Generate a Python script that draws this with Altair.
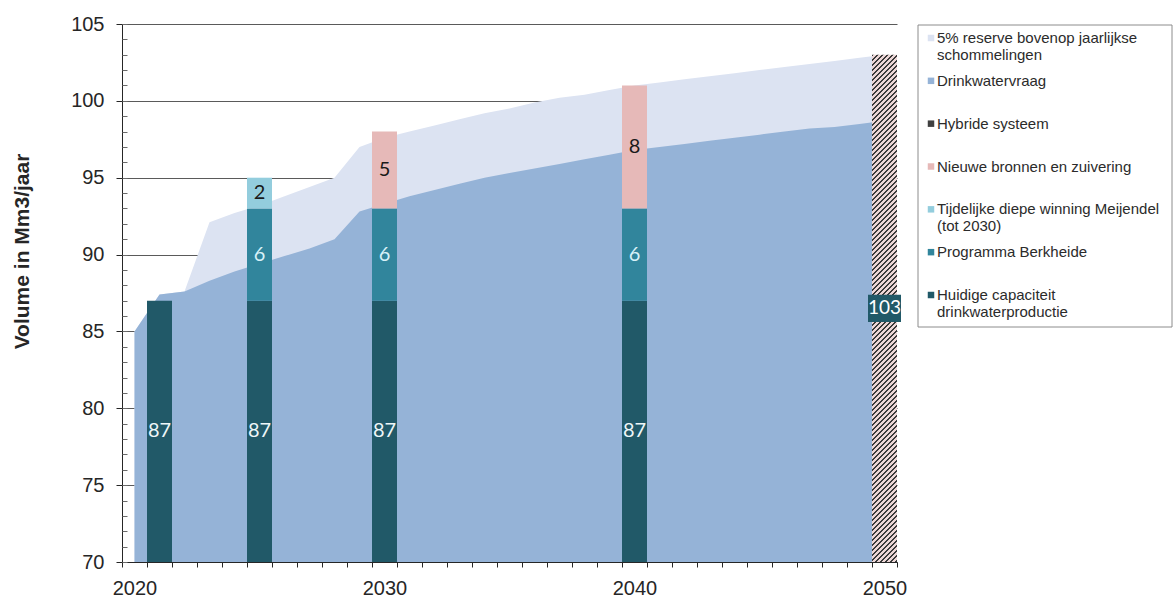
import math

import altair as alt
import pandas as pd

# ---------------------------------------------------------------- values
years = list(range(2020, 2051))

# drinking-water demand (Mm3/year)
demand = [85.0, 87.4, 87.6, 88.3, 88.9, 89.4, 89.9, 90.4, 91.0, 92.8,
          93.3, 93.8, 94.2, 94.6, 95.0, 95.3, 95.6, 95.9, 96.2, 96.5,
          96.8, 97.0, 97.2, 97.4, 97.6, 97.8, 98.0, 98.2, 98.3, 98.5, 98.7]

# demand plus 5% reserve on top of yearly fluctuations
reserve = [85.0, 87.4, 87.6, 92.1, 92.7, 93.2, 93.8, 94.4, 95.0, 97.0,
           97.6, 98.0, 98.4, 98.8, 99.2, 99.5, 99.9, 100.2, 100.4, 100.7,
           101.0, 101.2, 101.4, 101.6, 101.8, 102.0, 102.2, 102.4, 102.6, 102.8, 103.0]

# production capacity per milestone year
bar_years = [2021, 2025, 2030, 2040]
huidige = [87, 87, 87, 87]
berkheide = [0, 6, 6, 6]
meijendel = [0, 2, 0, 0]
nieuwe = [0, 0, 5, 8]

hybride_year = 2050
hybride = 103

# legend entries (top to bottom); "|" marks a line break
RESERVE = "5% reserve bovenop jaarlijkse|schommelingen"
VRAAG = "Drinkwatervraag"
HYBRIDE = "Hybride systeem"
NIEUWE = "Nieuwe bronnen en zuivering"
MEIJENDEL = "Tijdelijke diepe winning Meijendel|(tot 2030)"
BERKHEIDE = "Programma Berkheide"
HUIDIGE = "Huidige capaciteit|drinkwaterproductie"
entries = [RESERVE, VRAAG, HYBRIDE, NIEUWE, MEIJENDEL, BERKHEIDE, HUIDIGE]

x_ticks = [2020, 2030, 2040, 2050]
y_ticks = [70, 75, 80, 85, 90, 95, 100, 105]

# ---------------------------------------------------------------- styling
FONT = "Liberation Sans"
NUM_FONT = "Lato"
INK = "#262626"
palette = {
    RESERVE: "#dce3f2",
    VRAAG: "#95b3d7",
    HYBRIDE: "#404040",
    NIEUWE: "#e6b9b8",
    MEIJENDEL: "#93cddd",
    BERKHEIDE: "#31859c",
    HUIDIGE: "#215968",
}
label_ink = {
    HUIDIGE: "#eef6f8",
    BERKHEIDE: "#d8f1f8",
    MEIJENDEL: "#1a1a1a",
    NIEUWE: "#1a1a1a",
}

PLOT_W, PLOT_H = 775, 538
Y_MIN, Y_MAX = 70, 105
X_MIN, X_MAX = years[0] - 0.5, years[-1] + 0.5
HYBRIDE_LABEL_Y = 86.5

x_scale = alt.Scale(domain=[X_MIN, X_MAX], nice=False, zero=False)
y_scale = alt.Scale(domain=[Y_MIN, Y_MAX], nice=False, zero=False)
color_scale = alt.Scale(domain=entries, range=[palette[e] for e in entries])
ink_scale = alt.Scale(domain=list(label_ink), range=list(label_ink.values()))

# ---------------------------------------------------------------- tables
area_df = pd.DataFrame({"year": years, "demand": demand, "reserve": reserve})

seg_names = [HUIDIGE, BERKHEIDE, MEIJENDEL, NIEUWE]
seg_values = [huidige, berkheide, meijendel, nieuwe]
rows = []
for order, (name, vals) in enumerate(zip(seg_names, seg_values)):
    for yr, v in zip(bar_years, vals):
        if v:
            rows.append({"year": yr, "component": name, "value": v, "order": order})
bar_df = pd.DataFrame(rows)

hyb_df = pd.DataFrame({"year": [hybride_year], "value": [hybride]})
legend_df = pd.DataFrame({"entry": entries, "row": list(range(len(entries)))})

# ---------------------------------------------------------------- axes
x_label_axis = alt.Axis(
    orient="bottom", values=x_ticks, format="d", ticks=False, tickSize=0,
    labelPadding=16, labelFont=FONT, labelFontSize=20, labelColor=INK,
    labelFlush=False, labelOverlap=False, domainColor=INK, domainWidth=1,
    grid=False, title=None, zindex=2,
)
x_tick_axis = alt.Axis(
    orient="bottom", values=[y - 0.5 for y in years] + [years[-1] + 0.5],
    labels=False, domain=False, tickSize=5, tickColor=INK, grid=False,
    title=None, zindex=2,
)
y_grid_axis = alt.Axis(
    orient="left", values=y_ticks, grid=True, gridColor="#5a5a5a", gridWidth=1,
    domain=False, ticks=False, labels=False, title=None, zindex=0,
)
y_main_axis = alt.Axis(
    orient="left", values=y_ticks, tickSize=6, tickColor=INK, labelPadding=12,
    labelFont=FONT, labelFontSize=20, labelColor=INK, domainColor=INK,
    domainWidth=1, grid=False, title="Volume in Mm3/jaar", titleFont=FONT,
    titleFontSize=21, titleFontWeight="bold", titleColor=INK, titleAngle=270,
    titleX=-100, titleY=227, titleAlign="center", titleBaseline="middle",
    zindex=2,
)
y_minor_axis = alt.Axis(
    orient="left", values=list(range(Y_MIN, Y_MAX + 1)), offset=-5, tickSize=5,
    tickColor="#6a6a6a", labels=False, domain=False, grid=False, title=None,
    zindex=2,
)

# ---------------------------------------------------------------- hatch fill
bar_px_w = PLOT_W / (X_MAX - X_MIN)
bar_px_h = PLOT_H * (hybride - Y_MIN) / (Y_MAX - Y_MIN)
ratio = bar_px_w / bar_px_h
k = 1.05
span = bar_px_h * k * (1 + ratio ** 2)
period = 5.0
dark_share = 0.42
stops = []
n_stripes = int(math.ceil(span / period))
for i in range(n_stripes):
    a = min(1.0, i * period / span)
    b = min(1.0, (i + dark_share) * period / span)
    c = min(1.0, (i + 1) * period / span)
    stops += [
        {"offset": a, "color": "#3a3a3a"},
        {"offset": b, "color": "#3a3a3a"},
        {"offset": b, "color": "#ecd6d6"},
        {"offset": c, "color": "#ecd6d6"},
    ]
hatch = {"gradient": "linear", "x1": 0, "y1": 0, "x2": k * ratio, "y2": k, "stops": stops}

# ---------------------------------------------------------------- layers
reserve_area = alt.Chart(area_df).mark_area(clip=True, opacity=1, color=palette[RESERVE]).encode(
    x=alt.X("year:Q", scale=x_scale, axis=x_label_axis),
    y=alt.Y("reserve:Q", scale=y_scale, axis=y_grid_axis, stack=None),
)

demand_area = alt.Chart(area_df).mark_area(clip=True, opacity=1, color=palette[VRAAG]).encode(
    x=alt.X("year:Q", scale=x_scale, axis=x_tick_axis),
    y=alt.Y("demand:Q", scale=y_scale, axis=y_main_axis, stack=None),
)

stacked = alt.Chart(bar_df).transform_stack(
    stack="value", groupby=["year"], sort=[alt.SortField("order")], as_=["y0", "y1"]
).transform_calculate(
    x0="datum.year - 0.5", x1="datum.year + 0.5",
    mid=f"(max(datum.y0, {Y_MIN}) + datum.y1) / 2",
)

bars = stacked.mark_bar(clip=True, opacity=1).encode(
    x=alt.X("x0:Q", scale=x_scale, axis=None),
    x2="x1:Q",
    y=alt.Y("y0:Q", scale=y_scale, axis=y_minor_axis),
    y2="y1:Q",
    color=alt.Color("component:N", scale=color_scale, legend=None),
)

bar_values = stacked.mark_text(font=NUM_FONT, fontSize=20).encode(
    x=alt.X("year:Q", scale=x_scale, axis=None),
    y=alt.Y("mid:Q", scale=y_scale, axis=None),
    text=alt.Text("value:Q", format="d"),
    fill=alt.Fill("component:N", scale=ink_scale, legend=None),
)

hybrid_bar = alt.Chart(hyb_df).transform_calculate(
    x0="datum.year - 0.5", x1="datum.year + 0.5"
).mark_bar(clip=True, fill=hatch, strokeWidth=0).encode(
    x=alt.X("x0:Q", scale=x_scale, axis=None),
    x2="x1:Q",
    y=alt.Y("value:Q", scale=y_scale, axis=None),
    y2=alt.Y2Datum(Y_MIN),
)

hybrid_box = alt.Chart(hyb_df).mark_point(
    shape="M-1,-0.82L1,-0.82L1,0.82L-1,0.82Z", size=1089, filled=True,
    fill=palette[HUIDIGE], opacity=1, strokeWidth=0,
).encode(
    x=alt.X("year:Q", scale=x_scale, axis=None),
    y=alt.YDatum(HYBRIDE_LABEL_Y, scale=y_scale, axis=None),
)

hybrid_text = alt.Chart(hyb_df).mark_text(font=NUM_FONT, fontSize=19, color="#ffffff").encode(
    x=alt.X("year:Q", scale=x_scale, axis=None),
    y=alt.YDatum(HYBRIDE_LABEL_Y, scale=y_scale, axis=None),
    text=alt.Text("value:Q", format="d"),
)

main = alt.layer(
    reserve_area, demand_area, bars, hybrid_bar, bar_values, hybrid_box, hybrid_text
).resolve_axis(x="independent", y="independent")

# ---------------------------------------------------------------- legend
legend_y = alt.Scale(domain=[0, len(entries) - 1], range=[14, 271])

legend_frame = alt.Chart(pd.DataFrame({"k": [0]})).mark_rect(
    fill="#ffffff", stroke="#8c8c8c", strokeWidth=1
).encode(x=alt.value(796), x2=alt.value(1050), y=alt.value(1), y2=alt.value(303))

legend_swatches = alt.Chart(legend_df).mark_square(size=42, opacity=1).encode(
    x=alt.value(809),
    y=alt.Y("row:Q", scale=legend_y, axis=None),
    color=alt.Color("entry:N", scale=color_scale, legend=None),
)

legend_labels = alt.Chart(legend_df).mark_text(
    align="left", baseline="alphabetic", dy=5, lineBreak="|", lineHeight=17,
    font=FONT, fontSize=15, color="#2b2b2b",
).encode(
    x=alt.value(815),
    y=alt.Y("row:Q", scale=legend_y, axis=None),
    text="entry:N",
)

legend = alt.layer(legend_frame, legend_swatches, legend_labels)

chart = alt.layer(main, legend).resolve_scale(y="independent").properties(
    width=PLOT_W,
    height=PLOT_H,
    autosize=alt.AutoSizeParams(type="none"),
    padding={"left": 122, "top": 24, "right": 277, "bottom": 37},
    background="#ffffff",
).configure_view(strokeWidth=0)

chart.save("out.html", embed_options={"renderer": "svg", "actions": False})
